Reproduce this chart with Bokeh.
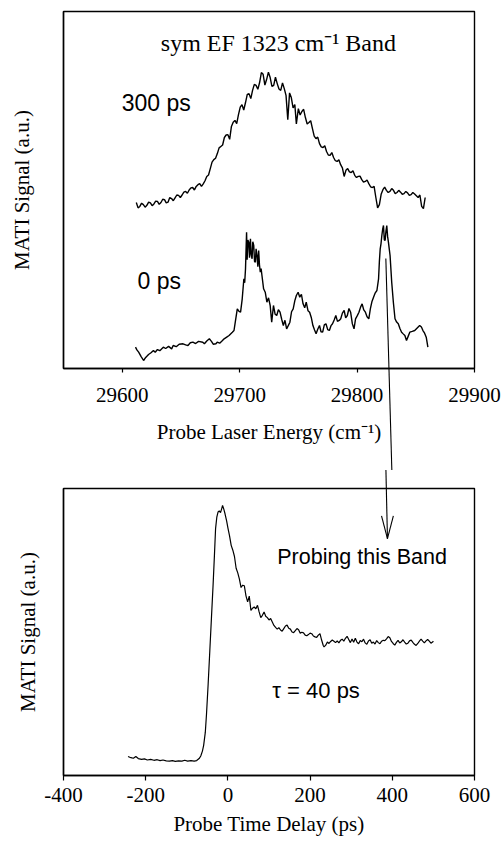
from bokeh.plotting import figure
from bokeh.layouts import column
from bokeh.models import Range1d, FixedTicker, Label, CustomJSTickFormatter
from bokeh.embed import file_html
from bokeh.resources import INLINE

SERIF = "Liberation Serif"
SANS = "Liberation Sans"

# ---------------------------------------------------------------------------
# MATI spectra of the sym EF 1323 cm-1 band (probe laser energy in cm-1,
# signal in arbitrary units)
# ---------------------------------------------------------------------------
energy_300ps = [
    29612, 29613.5, 29615, 29616.5, 29618, 29619.5, 29621, 29622.5, 29624, 29625.5,
    29627, 29628.5, 29630, 29631.5, 29633, 29634.5, 29636, 29637.5, 29639, 29640.5,
    29642, 29643.5, 29645, 29646.5, 29648, 29649.5, 29651, 29652.5, 29654, 29655.5,
    29657, 29658.5, 29660, 29661.5, 29663, 29664.5, 29666, 29667.5, 29669, 29670.5,
    29672, 29673.5, 29675, 29676.5, 29678, 29679.5, 29681, 29682.5, 29684, 29685.5,
    29687, 29688.5, 29690, 29691.5, 29693, 29694.5, 29696, 29697.5, 29699, 29700.5,
    29702, 29703.5, 29705, 29706.5, 29708, 29709.5, 29711, 29712.5, 29714, 29715.5,
    29717, 29718.5, 29720, 29721.5, 29723, 29724.5, 29726, 29727.5, 29729, 29730.5,
    29732, 29733.5, 29735, 29736.5, 29738, 29739.5, 29741, 29742.5, 29744, 29745.5,
    29747, 29748.3, 29750, 29751.5, 29753, 29754.5, 29756, 29757.5, 29759, 29760.5,
    29762, 29763.5, 29765, 29766.5, 29768, 29769.5, 29771, 29772.5, 29774, 29775.5,
    29777, 29778.5, 29780, 29781.5, 29783, 29784.5, 29786, 29787.5, 29789, 29790.5,
    29792, 29793.5, 29795, 29796.5, 29798, 29799.5, 29801, 29802.5, 29804, 29805.5,
    29807, 29808.5, 29810, 29811.5, 29813, 29814.5, 29816, 29817.5, 29819, 29820.5,
    29822, 29823.5, 29825, 29826.5, 29828, 29829.5, 29831, 29832.5, 29834, 29835.5,
    29837, 29838.5, 29840, 29841.5, 29843, 29844.5, 29846, 29847.5, 29849, 29850.5,
    29852, 29853.5, 29855, 29856.5, 29858,
]
signal_300ps = [
    46.5, 45.0, 45.4, 46.3, 45.9, 45.2, 45.7, 46.6, 46.4, 45.6,
    46.1, 46.9, 46.8, 46.0, 46.5, 47.4, 47.3, 46.4, 46.6, 47.9,
    47.6, 47.0, 47.8, 48.6, 48.5, 47.9, 48.6, 49.4, 49.6, 49.1,
    50.0, 50.6, 50.7, 50.0, 51.0, 51.5, 51.8, 51.0, 51.7, 52.6,
    53.8, 54.2, 56.0, 57.8, 58.5, 58.9, 60.2, 61.8, 62.2, 62.6,
    64.7, 65.4, 65.5, 64.2, 67.8, 69.0, 69.5, 68.6, 71.1, 73.2,
    73.9, 72.4, 74.5, 76.8, 77.0, 75.6, 77.9, 79.6, 79.3, 78.2,
    80.1, 82.9, 82.4, 79.4, 81.0, 83.0, 81.5, 79.0, 79.3, 81.6,
    79.8, 78.3, 77.9, 80.0, 78.4, 76.5, 69.7, 77.2, 75.9, 73.0,
    73.9, 68.5, 72.8, 71.0, 72.0, 72.6, 70.3, 68.5, 68.9, 69.4,
    67.2, 65.1, 64.4, 64.8, 63.0, 62.1, 61.9, 62.4, 60.8, 59.8,
    59.7, 60.5, 59.1, 58.2, 58.0, 58.5, 57.1, 56.2, 53.8, 55.5,
    56.0, 55.1, 54.9, 55.4, 54.1, 53.5, 53.8, 53.9, 52.9, 52.2,
    52.4, 52.8, 51.8, 50.9, 50.7, 51.0, 47.9, 45.0, 45.9, 48.8,
    50.1, 50.8, 49.9, 49.3, 49.6, 50.4, 49.9, 49.0, 49.3, 49.9,
    49.4, 48.8, 49.0, 49.6, 49.2, 48.5, 48.7, 49.3, 48.9, 48.4,
    47.9, 48.6, 45.4, 44.8, 47.9,
]

energy_0ps = [
    29611.3, 29612.5, 29614.0, 29616.0, 29618.2, 29620.0, 29622.4, 29624.5, 29626.6, 29628.1,
    29630.0, 29632.0, 29635.0, 29637.0, 29639.5, 29642.1, 29643.4, 29646.0, 29648.5, 29651.8,
    29654.0, 29656.0, 29658.0, 29660.2, 29662.5, 29665.0, 29668.6, 29670.0, 29672.0, 29674.2,
    29676.0, 29677.5, 29679.8, 29680.9, 29683.0, 29685.4, 29686.8, 29689.0, 29691.0, 29693.8,
    29695.2, 29696.5, 29698.0, 29699.5, 29700.8, 29702.2, 29703.6, 29704.3, 29705.0, 29705.9,
    29706.4, 29707.0, 29707.8, 29708.4, 29709.2, 29709.8, 29710.6, 29711.2, 29712.0, 29712.7,
    29713.4, 29714.0, 29714.8, 29715.5, 29716.2, 29716.9, 29717.6, 29718.3, 29719.0, 29720.4,
    29721.8, 29723.2, 29724.6, 29726.0, 29727.3, 29728.8, 29730.2, 29731.6, 29733.0, 29734.4,
    29735.8, 29737.2, 29738.6, 29740.0, 29741.4, 29742.8, 29744.2, 29745.6, 29747.0, 29748.3,
    29749.8, 29751.2, 29752.6, 29754.0, 29755.4, 29756.7, 29758.2, 29759.6, 29761.0, 29762.4,
    29763.8, 29765.1, 29766.5, 29768.0, 29769.3, 29770.7, 29772.1, 29773.5, 29775.0, 29776.4,
    29777.8, 29779.1, 29780.5, 29781.9, 29783.3, 29784.8, 29786.1, 29787.5, 29789.0, 29790.3,
    29791.7, 29793.1, 29794.5, 29796.0, 29797.4, 29798.7, 29800.2, 29801.6, 29803.0, 29804.3,
    29805.7, 29807.1, 29808.5, 29810.0, 29811.3, 29812.7, 29814.1, 29815.5, 29816.9, 29818.3,
    29819.0, 29819.7, 29820.4, 29821.1, 29821.8, 29822.5, 29823.2, 29823.9, 29824.6, 29825.3,
    29826.0, 29826.7, 29827.4, 29828.1, 29829.5, 29830.9, 29832.3, 29833.7, 29835.1, 29836.5,
    29837.9, 29839.3, 29840.7, 29842.1, 29843.5, 29844.9, 29847.0, 29849.1, 29851.0, 29853.3,
    29854.8, 29856.1, 29857.5, 29858.9, 29860.3,
]
signal_0ps = [
    5.97, 5.2, 4.57, 3.4, 2.24, 3.1, 3.92, 4.4, 5.04, 4.57,
    5.3, 5.0, 5.97, 5.6, 6.2, 5.5, 6.44, 6.1, 6.8, 6.92,
    6.6, 6.44, 7.2, 7.37, 7.0, 7.6, 7.37, 6.92, 7.7, 8.32,
    7.6, 6.8, 6.92, 7.37, 7.1, 7.84, 8.32, 8.8, 9.24, 10.17,
    10.64, 13.5, 16.72, 16.0, 15.77, 19.52, 25.13, 24.0, 27.93, 38.18,
    30.5, 36.0, 35.38, 31.0, 36.33, 32.0, 30.73, 35.5, 34.45, 30.0,
    29.78, 33.5, 31.65, 28.5, 33.05, 29.0, 26.97, 28.0, 26.05, 22.32,
    21.37, 18.57, 19.8, 17.65, 12.97, 17.65, 15.2, 14.85, 16.5, 15.77,
    13.8, 12.04, 13.5, 11.12, 12.0, 12.97, 15.9, 16.72, 19.0, 20.45,
    21.37, 19.97, 20.8, 18.12, 17.0, 18.57, 16.2, 15.77, 14.3, 12.04,
    10.8, 9.72, 11.0, 12.04, 10.3, 10.17, 12.2, 12.52, 10.9, 10.64,
    12.0, 12.52, 13.6, 14.85, 13.2, 13.45, 13.92, 15.5, 16.25, 14.2,
    14.85, 16.8, 15.77, 12.5, 11.12, 13.92, 14.8, 15.77, 17.2, 18.12,
    16.4, 15.77, 14.5, 13.92, 16.72, 18.8, 20.0, 21.2, 21.85, 25.13,
    30.0, 33.53, 35.0, 37.25, 39.0, 40.06, 36.0, 35.85, 38.5, 40.06,
    37.0, 35.38, 33.5, 31.65, 24.17, 18.57, 13.92, 13.0, 12.52, 11.2,
    10.17, 9.7, 9.24, 7.84, 9.0, 10.17, 10.4, 10.64, 11.3, 12.04,
    11.6, 10.64, 9.9, 8.77, 6.0,
]

# ---------------------------------------------------------------------------
# Time scan of the band near 29825 cm-1 (probe delay in ps, signal in a.u.)
# ---------------------------------------------------------------------------
delay_ps = [
    -243, -236, -230, -224, -218, -210, -203, -196, -188, -180,
    -172, -165, -158, -150, -142, -135, -128, -120, -112, -105,
    -98, -90, -82, -76, -70, -66, -62, -59, -55, -52,
    -48, -44, -40, -36, -33, -30, -27, -24, -21, -18,
    -15, -13, -10, -7, -3, 0, 4, 8, 12, 16,
    20, 24, 28, 32, 36, 40, 44, 48, 52, 56,
    60, 64, 68, 72, 76, 80, 84, 88, 92, 96,
    100, 104, 108, 112, 116, 120, 124, 128, 132, 136,
    140, 144, 148, 152, 156, 160, 164, 168, 172, 176,
    180, 184, 188, 192, 196, 200, 204, 208, 212, 216,
    220, 224, 228, 232, 234, 238, 242, 246, 250, 254,
    258, 262, 266, 270, 274, 278, 282, 286, 290, 294,
    298, 302, 306, 310, 314, 318, 322, 326, 330, 334,
    338, 342, 346, 350, 354, 358, 362, 366, 370, 374,
    378, 382, 386, 390, 394, 398, 402, 406, 410, 414,
    418, 422, 426, 430, 434, 438, 442, 446, 450, 454,
    458, 462, 466, 470, 474, 478, 482, 486, 490, 494,
    498, 500,
]
signal_delay = [
    6.6, 6.2, 6.0, 6.6, 5.9, 5.6, 5.8, 5.4, 5.6, 5.3,
    5.5, 5.2, 5.4, 5.1, 5.0, 5.2, 4.9, 5.1, 5.0, 5.3,
    5.0, 5.2, 5.0, 5.2, 5.9, 6.8, 8.5, 10.5, 15.0, 21.5,
    32.0, 43.5, 55.0, 66.5, 76.0, 86.0, 90.0, 91.8, 92.2, 91.6,
    93.0, 94.1, 92.8, 91.2, 88.6, 86.3, 83.5, 80.2, 78.5, 76.3,
    72.2, 70.6, 68.4, 65.5, 66.3, 66.1, 62.6, 60.5, 62.5, 57.5,
    58.3, 58.7, 58.1, 59.3, 57.0, 55.0, 55.8, 57.0, 55.5, 55.0,
    54.2, 54.7, 53.5, 52.3, 51.6, 51.0, 51.5, 50.7, 50.3, 51.2,
    52.1, 52.4, 51.3, 51.0, 50.0, 49.8, 50.5, 51.2, 50.8, 49.6,
    49.9, 49.7, 48.9, 48.7, 49.1, 49.6, 49.4, 48.6, 48.3, 48.1,
    48.9, 49.4, 47.2, 45.3, 44.8, 45.4, 46.5, 46.0, 46.7, 47.2,
    46.8, 46.3, 46.9, 46.2, 47.1, 47.5, 46.8, 47.8, 48.5, 47.4,
    46.3, 47.6, 46.4, 47.8, 46.5, 45.9, 47.0, 46.6, 47.5, 46.2,
    45.7, 46.9, 47.3, 46.1, 46.5, 45.8, 47.0, 46.3, 45.9, 46.8,
    47.1, 47.0, 47.6, 48.4, 48.0, 46.7, 46.0, 45.4, 46.4, 47.1,
    46.2, 46.6, 47.3, 46.5, 45.8, 46.1, 46.9, 47.2, 46.4, 45.7,
    45.3, 46.0, 46.8, 47.5, 46.8, 46.2, 46.9, 47.4, 46.8, 46.1,
    46.5, 46.8,
]

energy_ticks = [29600, 29700, 29800, 29900]
delay_ticks = [-400, -200, 0, 200, 400, 600]

# Pointer from the 0 ps band peak down to the time scan
# (start/end in each panel's own data units)
POINTER_TOP = dict(x0=29824.5, y0=30.8, x1=29829.7, y1=-29.5)
POINTER_BOTTOM = dict(x0=384.3, y0=107.5, x1=388.2, y1=82.5)
HEAD_HALF_WIDTH_PS = 14.4   # ~6 px at this panel's scale
HEAD_LENGTH_AU = 8.0        # ~23 px at this panel's scale


def style_panel(p, ticks, x_title):
    p.xgrid.visible = False
    p.ygrid.visible = False
    p.outline_line_color = "black"
    p.outline_line_width = 1.4
    p.outline_line_alpha = 1.0
    p.background_fill_color = "white"
    p.border_fill_color = "white"

    xa = p.xaxis[0]
    xa.ticker = FixedTicker(ticks=ticks)
    # plain integers with an ASCII hyphen for negative values
    xa.formatter = CustomJSTickFormatter(code="return String(Math.round(tick));")
    xa.axis_line_color = "black"
    xa.axis_line_width = 1.4
    xa.major_tick_line_color = "black"
    xa.major_tick_line_width = 1.2
    xa.major_tick_in = 0
    xa.major_tick_out = 4
    xa.minor_tick_line_color = None
    xa.major_label_text_font = SERIF
    xa.major_label_text_font_size = "21px"
    xa.major_label_text_color = "black"
    xa.axis_label = x_title
    xa.axis_label_text_font = SERIF
    xa.axis_label_text_font_size = "21px"
    xa.axis_label_text_font_style = "normal"
    xa.axis_label_text_color = "black"

    ya = p.yaxis[0]
    ya.ticker = FixedTicker(ticks=[])
    ya.axis_line_color = "black"
    ya.axis_line_width = 1.4
    ya.major_tick_line_color = None
    ya.minor_tick_line_color = None
    ya.major_tick_in = 0
    ya.major_tick_out = 0
    ya.major_label_standoff = 0
    ya.axis_label = "MATI Signal (a.u.)"
    ya.axis_label_text_font = SERIF
    ya.axis_label_text_font_size = "21px"
    ya.axis_label_text_font_style = "normal"
    ya.axis_label_text_color = "black"


# --- upper panel: spectra -------------------------------------------------
top = figure(
    width=502, height=470,
    x_range=Range1d(29550, 29900), y_range=Range1d(0, 100),
    output_backend="svg", toolbar_location=None,
    min_border_left=57, min_border_right=28,
    min_border_top=11, min_border_bottom=102,
)
style_panel(top, energy_ticks, "Probe Laser Energy (cm\u207b\u00b9)")
top.xaxis[0].major_label_standoff = 15
top.xaxis[0].axis_label_standoff = 15
top.yaxis[0].axis_label_standoff = 30

top.line(energy_300ps, signal_300ps, line_color="black", line_width=1.4)
top.line(energy_0ps, signal_0ps, line_color="black", line_width=1.4)

top.add_layout(Label(x=29733, y=91.3, text="sym EF 1323 cm\u207b\u00b9 Band",
                     text_font=SERIF, text_font_size="24px", text_color="black",
                     text_align="center", text_baseline="middle"))
top.add_layout(Label(x=29599.5, y=74.4, text="300 ps",
                     text_font=SANS, text_font_size="23px", text_color="black",
                     text_align="left", text_baseline="middle"))
top.add_layout(Label(x=29613, y=24.6, text="0 ps",
                     text_font=SANS, text_font_size="23px", text_color="black",
                     text_align="left", text_baseline="middle"))

top.segment(x0=[POINTER_TOP["x0"]], y0=[POINTER_TOP["y0"]],
            x1=[POINTER_TOP["x1"]], y1=[POINTER_TOP["y1"]],
            line_color="black", line_width=1.1, level="overlay")

# --- lower panel: time scan -----------------------------------------------
bottom = figure(
    width=502, height=371,
    x_range=Range1d(-400, 600), y_range=Range1d(0, 100),
    output_backend="svg", toolbar_location=None,
    min_border_left=63, min_border_right=22,
    min_border_top=18, min_border_bottom=66,
)
style_panel(bottom, delay_ticks, "Probe Time Delay (ps)")
bottom.xaxis[0].major_tick_out = 5
bottom.xaxis[0].major_label_standoff = 7
bottom.xaxis[0].axis_label_standoff = 7
bottom.yaxis[0].axis_label_standoff = 24

bottom.line(delay_ps, signal_delay, line_color="black", line_width=1.2)

bottom.add_layout(Label(x=120, y=76.3, text="Probing this Band",
                        text_font=SANS, text_font_size="21.5px", text_color="black",
                        text_align="left", text_baseline="middle"))
bottom.add_layout(Label(x=108, y=29.6, text="\u03c4 = 40 ps",
                        text_font=SANS, text_font_size="22px", text_color="black",
                        text_align="left", text_baseline="middle"))

tip_x, tip_y = POINTER_BOTTOM["x1"], POINTER_BOTTOM["y1"]
bottom.segment(x0=[POINTER_BOTTOM["x0"], tip_x, tip_x],
               y0=[POINTER_BOTTOM["y0"], tip_y, tip_y],
               x1=[tip_x, tip_x - HEAD_HALF_WIDTH_PS, tip_x + HEAD_HALF_WIDTH_PS],
               y1=[tip_y, tip_y + HEAD_LENGTH_AU, tip_y + HEAD_LENGTH_AU],
               line_color="black", line_width=1.1, level="overlay")

layout = column(top, bottom, spacing=0)

open("out.html", "w").write(file_html(layout, INLINE))
